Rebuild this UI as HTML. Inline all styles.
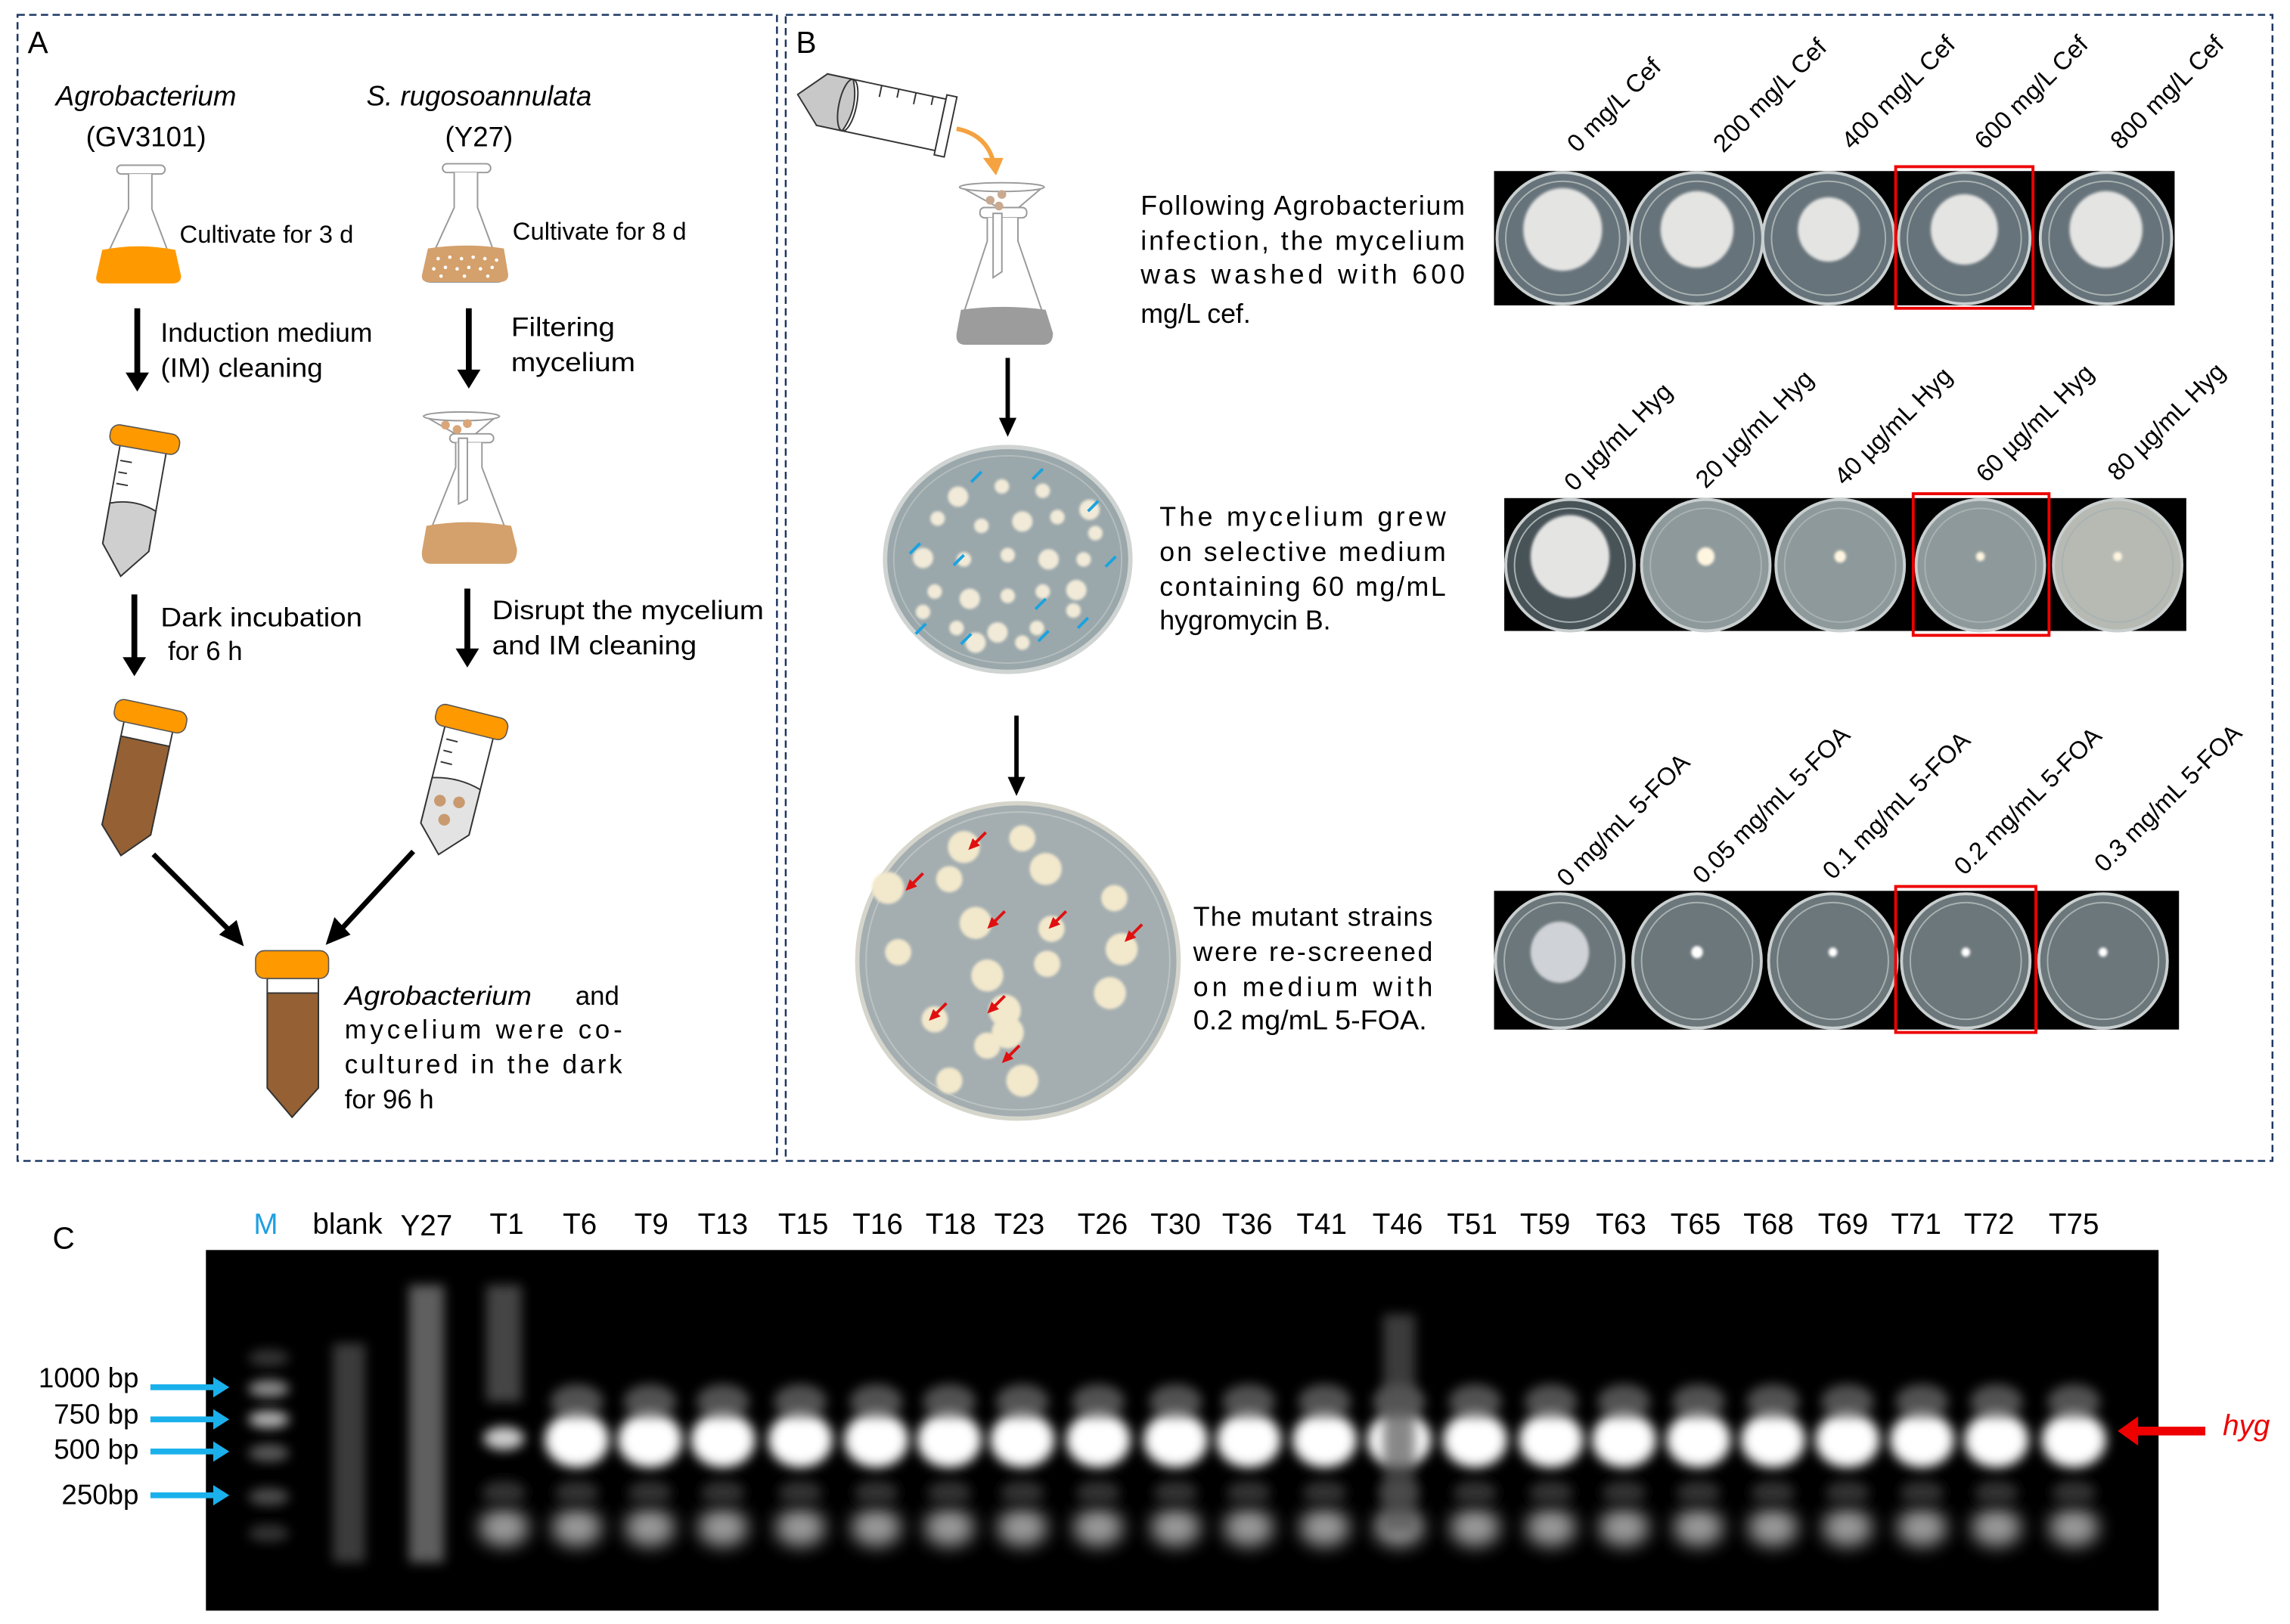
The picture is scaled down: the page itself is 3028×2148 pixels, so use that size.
<!DOCTYPE html>
<html><head><meta charset="utf-8"><style>
html,body{margin:0;padding:0;background:#fff;}
svg{display:block;}
text{font-family:"Liberation Sans",sans-serif;}
</style></head><body>
<svg id="s" width="3028" height="2148" viewBox="0 0 1568 1112" xmlns="http://www.w3.org/2000/svg">
<defs>
<filter id="bl" x="-50%" y="-50%" width="200%" height="200%"><feGaussianBlur stdDeviation="4"/></filter>
<filter id="bl3" x="-50%" y="-50%" width="200%" height="200%"><feGaussianBlur stdDeviation="6"/></filter>
<filter id="bl1" x="-50%" y="-50%" width="200%" height="200%"><feGaussianBlur stdDeviation="1"/></filter>
</defs>
<rect x="12" y="10" width="520" height="785" fill="none" stroke="#1f3864" stroke-width="1.3" stroke-dasharray="5,3"/>
<rect x="538" y="10" width="1018" height="785" fill="none" stroke="#1f3864" stroke-width="1.3" stroke-dasharray="5,3"/>

<!-- PANEL A -->
<text x="19" y="36" font-size="21">A</text>
<text x="100" y="72" font-size="19" font-style="italic" text-anchor="middle">Agrobacterium</text>
<text x="100" y="100" font-size="19" text-anchor="middle">(GV3101)</text>
<text x="328" y="72" font-size="19" font-style="italic" text-anchor="middle">S. rugosoannulata</text>
<text x="328" y="100" font-size="19" text-anchor="middle">(Y27)</text>

<g stroke="#999" stroke-width="1" fill="#fff">
<rect x="80" y="113" width="33" height="6" rx="3"/>
<path d="M88,119 L88,143 L67,188 Q66,193 72,193 L117,193 Q123,193 121,188 L104,143 L104,119"/>
</g>
<path d="M70,171 Q95,166 120,171 L124,189 Q124,194 118,194 L71,194 Q65,194 66,189z" fill="#ff9900"/>
<text x="123" y="166" font-size="17">Cultivate for 3 d</text>
<g stroke="#999" stroke-width="1" fill="#fff">
<rect x="303" y="112" width="33" height="6" rx="3"/>
<path d="M311,118 L311,142 L290,188 Q289,193 295,193 L340,193 Q346,193 344,188 L327,142 L327,118"/>
</g>
<path d="M293,170 Q320,166 345,170 L348,188 Q348,193 342,193 L294,193 Q288,193 289,188z" fill="#d4a06c"/>
<g fill="#fff"><circle cx="300" cy="177" r="1.2"/><circle cx="308" cy="176" r="1.2"/><circle cx="316" cy="177" r="1.2"/><circle cx="324" cy="176" r="1.2"/><circle cx="332" cy="177" r="1.2"/><circle cx="340" cy="178" r="1.2"/><circle cx="297" cy="184" r="1.2"/><circle cx="305" cy="183" r="1.2"/><circle cx="313" cy="184" r="1.2"/><circle cx="321" cy="183" r="1.2"/><circle cx="329" cy="184" r="1.2"/><circle cx="337" cy="183" r="1.2"/><circle cx="302" cy="189" r="1.2"/><circle cx="318" cy="189" r="1.2"/><circle cx="334" cy="189" r="1.2"/></g>
<text x="351" y="164" font-size="17">Cultivate for 8 d</text>

<line x1="94" y1="211" x2="94" y2="258" stroke="#000" stroke-width="4"/>
<path d="M86,255 L102,255 L94,268z"/>
<line x1="321" y1="211" x2="321" y2="256" stroke="#000" stroke-width="4"/>
<path d="M313,253 L329,253 L321,266z"/>
<text x="110" y="234" font-size="18" textLength="145" lengthAdjust="spacingAndGlyphs">Induction medium</text>
<text x="110" y="258" font-size="18" textLength="111" lengthAdjust="spacingAndGlyphs">(IM) cleaning</text>
<text x="350" y="230" font-size="18" textLength="71" lengthAdjust="spacingAndGlyphs">Filtering</text>
<text x="350" y="254" font-size="18" textLength="85" lengthAdjust="spacingAndGlyphs">mycelium</text>

<g transform="translate(100,296) rotate(10)">
<path d="M-16,10 L16,10 L16,80 L0,100 L-16,80z" fill="#fff" stroke="#333" stroke-width="1"/>
<path d="M-16,52 Q0,46 16,52 L16,80 L0,100 L-16,80z" fill="#cfcfcf" stroke="#333" stroke-width="1"/>
<g stroke="#333" stroke-width="1"><line x1="-14" y1="22" x2="-6" y2="22"/><line x1="-14" y1="30" x2="-8" y2="30"/><line x1="-14" y1="38" x2="-6" y2="38"/></g>
<rect x="-24" y="-2" width="48" height="14" rx="6" fill="#ff9900" stroke="#555" stroke-width="0.8"/>
</g>
<g stroke="#999" stroke-width="1" fill="#fff">
<path d="M291,285 L340,285 L322,300 L322,315 L317,320 L317,300z"/>
<ellipse cx="316" cy="285" rx="26" ry="3"/>
<rect x="308" y="297" width="30" height="6" rx="3"/>
<path d="M312,303 L312,320 L290,375 Q289,382 295,382 L347,382 Q353,382 351,375 L330,320 L330,303"/>
<path d="M314,300 L314,345 L320,342 L320,300z"/>
</g>
<path d="M292,360 Q320,355 350,360 L354,376 Q354,386 347,386 L295,386 Q288,386 289,377z" fill="#d4a06c"/>
<g fill="#d9a67a"><circle cx="305" cy="291" r="3"/><circle cx="313" cy="294" r="3"/><circle cx="320" cy="290" r="3"/></g>

<line x1="92" y1="407" x2="92" y2="452" stroke="#000" stroke-width="4"/>
<path d="M84,450 L100,450 L92,463z"/>
<line x1="320" y1="403" x2="320" y2="446" stroke="#000" stroke-width="4"/>
<path d="M312,444 L328,444 L320,457z"/>
<text x="110" y="429" font-size="18" textLength="138" lengthAdjust="spacingAndGlyphs">Dark incubation</text>
<text x="115" y="452" font-size="18">for 6 h</text>
<text x="337" y="424" font-size="18" textLength="186" lengthAdjust="spacingAndGlyphs">Disrupt the mycelium</text>
<text x="337" y="448" font-size="18" textLength="140" lengthAdjust="spacingAndGlyphs">and IM cleaning</text>

<g transform="translate(104,486) rotate(12)">
<path d="M-17,10 L17,10 L17,84 L0,102 L-17,84z" fill="#fff" stroke="#333" stroke-width="1"/>
<path d="M-17,22 L17,22 L17,84 L0,102 L-17,84z" fill="#956134" stroke="#333" stroke-width="1"/>
<rect x="-25" y="-3" width="50" height="15" rx="6" fill="#ff9900" stroke="#555" stroke-width="0.8"/>
</g>
<g transform="translate(324,490) rotate(14)">
<path d="M-17,10 L17,10 L17,80 L0,98 L-17,80z" fill="#fff" stroke="#333" stroke-width="1"/>
<path d="M-17,48 Q0,43 17,48 L17,80 L0,98 L-17,80z" fill="#e3e3e3" stroke="#333" stroke-width="1"/>
<g stroke="#333" stroke-width="1"><line x1="-14" y1="20" x2="-6" y2="20"/><line x1="-14" y1="28" x2="-8" y2="28"/><line x1="-14" y1="36" x2="-6" y2="36"/></g>
<g fill="#c99a70"><circle cx="-8" cy="62" r="4"/><circle cx="5" cy="60" r="4"/><circle cx="-2" cy="74" r="4"/></g>
<rect x="-25" y="-3" width="50" height="15" rx="6" fill="#ff9900" stroke="#555" stroke-width="0.8"/>
</g>
<line x1="105" y1="585" x2="158" y2="638" stroke="#000" stroke-width="3.5"/>
<path d="M150,640 L162,630 L167,648z"/>
<line x1="283" y1="583" x2="233" y2="637" stroke="#000" stroke-width="3.5"/>
<path d="M229,628 L240,640 L223,647z"/>
<path d="M183,670 L218,670 L218,745 L200,765 L183,745z" fill="#fff" stroke="#333" stroke-width="1"/>
<path d="M183,680 L218,680 L218,745 L200,765 L183,745z" fill="#956134" stroke="#333" stroke-width="1"/>
<rect x="175" y="651" width="50" height="19" rx="6" fill="#ff9900" stroke="#555" stroke-width="0.8"/>
<text x="236" y="688" font-size="18" font-style="italic" textLength="128" lengthAdjust="spacingAndGlyphs">Agrobacterium</text>
<text x="394" y="688" font-size="18">and</text>
<text x="236" y="711" font-size="18" textLength="190" lengthAdjust="spacing">mycelium were co-</text>
<text x="236" y="735" font-size="18" textLength="190" lengthAdjust="spacing">cultured in the dark</text>
<text x="236" y="759" font-size="18">for 96 h</text>

<!-- PANEL B -->
<text x="545" y="36" font-size="21">B</text>
<g transform="translate(600,76) rotate(12)">
<path d="M-38,-18 L45,-18 L45,18 L-38,18z" fill="#fff" stroke="#333" stroke-width="1"/>
<path d="M-55,0 L-38,-18 L-20,-18 Q-12,0 -20,18 L-38,18z" fill="#c8c8c8" stroke="#333" stroke-width="1"/>
<ellipse cx="-20" cy="0" rx="6" ry="18" fill="none" stroke="#333"/>
<g stroke="#333"><line x1="0" y1="-18" x2="0" y2="-10"/><line x1="12" y1="-18" x2="12" y2="-12"/><line x1="24" y1="-18" x2="24" y2="-10"/><line x1="36" y1="-18" x2="36" y2="-12"/></g>
<rect x="45" y="-21" width="7" height="42" fill="#fff" stroke="#333"/>
</g>
<path d="M655,88 Q675,92 680,110" fill="none" stroke="#f4a340" stroke-width="3"/>
<path d="M673,108 L687,108 L682,120z" fill="#f4a340"/>
<g stroke="#999" stroke-width="1" fill="#fff">
<path d="M658,128 L714,128 L694,145 L694,160 L689,165 L689,145z"/>
<ellipse cx="686" cy="128" rx="29" ry="3"/>
<rect x="671" y="142" width="32" height="7" rx="3"/>
<path d="M676,149 L676,165 L656,226 Q655,234 661,234 L714,234 Q720,234 718,226 L697,165 L697,149"/>
<path d="M680,146 L680,190 L686,186 L686,146z"/>
</g>
<path d="M658,212 Q687,208 716,212 L721,228 Q721,236 714,236 L661,236 Q654,236 655,228z" fill="#9c9c9c"/>
<g fill="#c9a990"><circle cx="678" cy="137" r="3"/><circle cx="686" cy="133" r="3"/><circle cx="684" cy="141" r="3"/></g>
<text x="781" y="147" font-size="18.5" textLength="222" lengthAdjust="spacing">Following Agrobacterium</text>
<text x="781" y="171" font-size="18.5" textLength="222" lengthAdjust="spacing">infection, the mycelium</text>
<text x="781" y="194" font-size="18.5" textLength="222" lengthAdjust="spacing">was washed with 600</text>
<text x="781" y="221" font-size="18.5">mg/L cef.</text>

<line x1="690" y1="245" x2="690" y2="287" stroke="#000" stroke-width="3"/>
<path d="M684,286 L696,286 L690,299z"/>
<ellipse cx="690" cy="383" rx="84" ry="77" fill="#9aa7ab" stroke="#cfd4d2" stroke-width="3"/>
<ellipse cx="690" cy="383" rx="78" ry="71" fill="none" stroke="#b4bdbd" stroke-width="1"/>
<g id="hc"></g>
<text x="794" y="360" font-size="18.5" textLength="196" lengthAdjust="spacing">The mycelium grew</text>
<text x="794" y="384" font-size="18.5" textLength="196" lengthAdjust="spacing">on selective medium</text>
<text x="794" y="408" font-size="18.5" textLength="196" lengthAdjust="spacing">containing 60 mg/mL</text>
<text x="794" y="431" font-size="18.5">hygromycin B.</text>

<line x1="696" y1="490" x2="696" y2="533" stroke="#000" stroke-width="3"/>
<path d="M690,532 L702,532 L696,545z"/>
<ellipse cx="697" cy="658" rx="110" ry="108" fill="#a4aeb1" stroke="#d5d5cc" stroke-width="3"/>
<ellipse cx="697" cy="658" rx="104" ry="102" fill="none" stroke="#bcc3c2" stroke-width="1"/>
<g id="fc"></g>
<text x="817" y="634" font-size="18.5" textLength="164" lengthAdjust="spacing">The mutant strains</text>
<text x="817" y="658" font-size="18.5" textLength="164" lengthAdjust="spacing">were re-screened</text>
<text x="817" y="682" font-size="18.5" textLength="164" lengthAdjust="spacing">on medium with</text>
<text x="817" y="705" font-size="18.5" textLength="160" lengthAdjust="spacingAndGlyphs">0.2 mg/mL 5-FOA.</text>

<rect x="1023" y="117" width="466" height="92" fill="#000"/>
<rect x="1030" y="341" width="467" height="91" fill="#000"/>
<rect x="1023" y="610" width="469" height="95" fill="#000"/>
<g id="plates"></g>
<rect x="1298" y="114" width="94" height="97" fill="none" stroke="#e00" stroke-width="2"/>
<rect x="1310" y="338" width="93" height="97" fill="none" stroke="#e00" stroke-width="2"/>
<rect x="1298" y="607" width="96" height="100" fill="none" stroke="#e00" stroke-width="2"/>

<g font-size="17">
<text transform="translate(1080,105) rotate(-45)">0 mg/L Cef</text>
<text transform="translate(1180,105) rotate(-45)">200 mg/L Cef</text>
<text transform="translate(1268,103) rotate(-45)">400 mg/L Cef</text>
<text transform="translate(1359,103) rotate(-45)">600 mg/L Cef</text>
<text transform="translate(1452,103) rotate(-45)">800 mg/L Cef</text>
<text transform="translate(1078,337) rotate(-45)">0 µg/mL Hyg</text>
<text transform="translate(1168,335) rotate(-45)">20 µg/mL Hyg</text>
<text transform="translate(1263,333) rotate(-45)">40 µg/mL Hyg</text>
<text transform="translate(1360,331) rotate(-45)">60 µg/mL Hyg</text>
<text transform="translate(1450,330) rotate(-45)">80 µg/mL Hyg</text>
<text transform="translate(1073,608) rotate(-45)">0 mg/mL 5-FOA</text>
<text transform="translate(1166,606) rotate(-45)">0.05 mg/mL 5-FOA</text>
<text transform="translate(1255,603) rotate(-45)">0.1 mg/mL 5-FOA</text>
<text transform="translate(1345,600) rotate(-45)">0.2 mg/mL 5-FOA</text>
<text transform="translate(1441,598) rotate(-45)">0.3 mg/mL 5-FOA</text>
</g>

<!-- PANEL C -->
<text x="36" y="855" font-size="21">C</text>
<g font-size="20" text-anchor="middle">
<text x="182" y="845" fill="#1fa0e0">M</text>
<text x="238" y="845">blank</text><text x="292" y="846">Y27</text><text x="347" y="845">T1</text>
<text x="397" y="845">T6</text><text x="446" y="845">T9</text><text x="495" y="845">T13</text>
<text x="550" y="845">T15</text><text x="601" y="845">T16</text><text x="651" y="845">T18</text>
<text x="698" y="845">T23</text><text x="755" y="845">T26</text><text x="805" y="845">T30</text>
<text x="854" y="845">T36</text><text x="905" y="845">T41</text><text x="957" y="845">T46</text>
<text x="1008" y="845">T51</text><text x="1058" y="845">T59</text><text x="1110" y="845">T63</text>
<text x="1161" y="845">T65</text><text x="1211" y="845">T68</text><text x="1262" y="845">T69</text>
<text x="1312" y="845">T71</text><text x="1362" y="845">T72</text><text x="1420" y="845">T75</text>
</g>
<rect x="141" y="856" width="1337" height="247" fill="#000"/>
<g id="gel"></g>
<g font-size="19" text-anchor="end">
<text x="95" y="950">1000 bp</text>
<text x="95" y="975">750 bp</text>
<text x="95" y="999">500 bp</text>
<text x="95" y="1030">250bp</text>
</g>
<g fill="#1ab0ec">
<rect x="103" y="948" width="44" height="4"/><path d="M146,943 L157,950 L146,957z"/>
<rect x="103" y="970" width="44" height="4"/><path d="M146,965 L157,972 L146,979z"/>
<rect x="103" y="992" width="44" height="4"/><path d="M146,987 L157,994 L146,1001z"/>
<rect x="103" y="1022" width="44" height="4"/><path d="M146,1017 L157,1024 L146,1031z"/>
</g>
<rect x="1462" y="977" width="48" height="6" fill="#e00"/>
<path d="M1464,970 L1450,980 L1464,990z" fill="#e00"/>
<text x="1522" y="983" font-size="20" font-style="italic" fill="#e00">hyg</text>
</svg>
<script>
var NS="http://www.w3.org/2000/svg";
function el(p,t,a){var e=document.createElementNS(NS,t);for(var k in a)e.setAttribute(k,a[k]);p.appendChild(e);return e;}
var hc=document.getElementById('hc');
var cols=[[656,340],[686,333],[714,336],[746,349],[642,355],[672,360],[700,357],[724,354],[750,365],[632,382],[660,383],[690,380],[718,383],[742,383],[640,405],[664,410],[690,408],[714,405],[737,404],[632,419],[655,430],[683,433],[710,430],[735,418],[668,440],[700,440]];
cols.forEach(function(c,i){el(hc,'circle',{cx:c[0],cy:c[1],r:(i%3==0?7:5),fill:'#f1ead8',filter:'url(#bl1)'});});
var ba=[[672,323],[714,321],[752,343],[630,372],[660,380],[764,381],[634,427],[665,434],[718,432],[745,423],[716,410]];
ba.forEach(function(a){el(hc,'line',{x1:a[0],y1:a[1],x2:a[0]-7,y2:a[1]+7,stroke:'#1aa3e0','stroke-width':2});});
var fc=document.getElementById('fc');
var fcol=[[660,580],[700,574],[608,608],[650,602],[716,595],[763,615],[668,632],[720,636],[768,650],[615,652],[676,668],[717,660],[688,692],[640,698],[760,680],[676,716],[690,707],[650,740],[700,740]];
fcol.forEach(function(c,i){el(fc,'circle',{cx:c[0],cy:c[1],r:(i%2?9:11),fill:'#f2e8cc',filter:'url(#bl1)'});});
[[675,570],[632,598],[688,624],[730,624],[782,633],[688,682],[648,687],[698,716]].forEach(function(a){
 el(fc,'line',{x1:a[0],y1:a[1],x2:a[0]-9,y2:a[1]+9,stroke:'#e01010','stroke-width':2});
 el(fc,'path',{d:'M'+(a[0]-12)+','+(a[1]+12)+' l3,-8 l5,5z',fill:'#e01010'});});
var pl=document.getElementById('plates');
function plate(cx,cy,rx,ry,bg,col,cc){
 el(pl,'ellipse',{cx:cx,cy:cy,rx:rx,ry:ry,fill:bg,stroke:'#c9cfcf','stroke-width':2});
 el(pl,'ellipse',{cx:cx,cy:cy,rx:rx-6,ry:ry-6,fill:'none',stroke:'#a9b2b2','stroke-width':1});
 if(col>0) el(pl,'ellipse',{cx:cx,cy:cy-6,rx:col,ry:col*1.05,fill:cc||'#e4e4e2',filter:'url(#bl1)'});
}
var r1=[1070,1162,1252,1345,1442];var sz1=[27,25,21,23,25];
r1.forEach(function(x,i){plate(x,163,45,45,'#66737a',sz1[i]);});
var r2=[1075,1168,1260,1356,1450];
r2.forEach(function(x,i){plate(x,387,44,45,i==0?'#485358':(i==4?'#b7bab3':'#8e999b'),i==0?27:(i==1?6:(i==2?4:3)),i==0?'#e4e4e2':'#fff6e0');});
var r3=[1068,1162,1255,1346,1440];
r3.forEach(function(x,i){plate(x,658,44,46,'#6c777b',i==0?20:(i==1?4:3),i==0?'#cfd2d6':'#fff');});
var g=document.getElementById('gel');
[[951,0.55],[972,0.7],[995,0.35],[1025,0.3],[930,0.2],[1050,0.2]].forEach(function(m){el(g,'ellipse',{cx:184,cy:m[0],rx:14,ry:6,fill:'#fff',opacity:m[1],filter:'url(#bl)'});});
el(g,'rect',{x:228,y:920,width:22,height:150,fill:'#555',filter:'url(#bl)',opacity:0.7});
el(g,'rect',{x:280,y:880,width:24,height:190,fill:'#777',filter:'url(#bl)',opacity:0.8});
el(g,'rect',{x:333,y:880,width:24,height:80,fill:'#444',filter:'url(#bl)'});
var lanes=[345,395,445,495,548,600,650,700,752,805,855,907,958,1010,1062,1112,1163,1214,1265,1316,1367,1420];
lanes.forEach(function(x,i){
 if(i==0){el(g,'ellipse',{cx:x,cy:985,rx:14,ry:8,fill:'#ccc',filter:'url(#bl)'});}
 else{
 el(g,'ellipse',{cx:x,cy:986,rx:22,ry:19,fill:'#fff',filter:'url(#bl)'});
 el(g,'ellipse',{cx:x,cy:960,rx:18,ry:12,fill:'#888',filter:'url(#bl)',opacity:0.6});
 }
 el(g,'ellipse',{cx:x,cy:1046,rx:17,ry:13,fill:'#aaa',filter:'url(#bl3)',opacity:0.9});
 el(g,'ellipse',{cx:x,cy:1022,rx:15,ry:8,fill:'#333',filter:'url(#bl)'});
});
el(g,'rect',{x:947,y:900,width:22,height:150,fill:'#555',filter:'url(#bl)',opacity:0.7});
</script>
</body></html>
